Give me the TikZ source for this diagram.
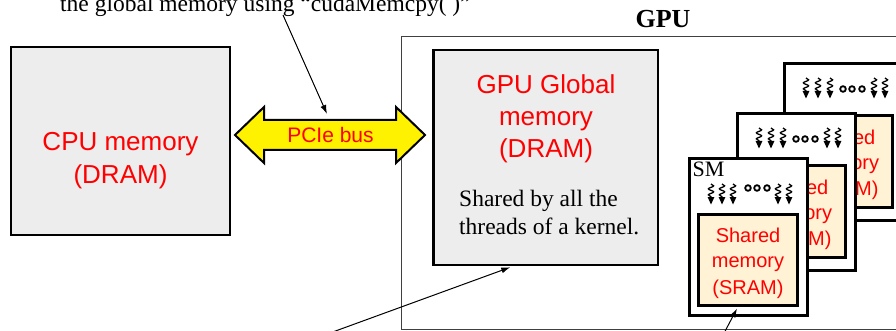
\documentclass[tikz,border=0pt]{standalone}
\usepackage{fontspec}
\setmainfont{Liberation Serif}
\newfontfamily\arialf{Liberation Sans}
\usetikzlibrary{arrows.meta,decorations.pathmorphing,calc}
\definecolor{boxgray}{HTML}{EDEDED}
\definecolor{peach}{HTML}{FFF2D5}
\definecolor{outlinegray}{HTML}{404040}
\tikzset{
  membox/.style={draw=black, fill=boxgray, rectangle, anchor=north west, inner sep=0pt, outer sep=0pt},
  smbox/.style={draw=black, line width=3pt, fill=white, rectangle, anchor=north west, inner sep=0pt, outer sep=0pt, minimum width=118pt, minimum height=157pt},
  shbox/.style={draw=black, line width=3pt, fill=peach, rectangle, anchor=north west, inner sep=0pt, outer sep=0pt, minimum width=99pt, minimum height=91.5pt},
  redbig/.style={text=red, font=\arialf\fontsize{26}{32}\selectfont, anchor=base, inner sep=0pt},
  redsmall/.style={text=red, font=\arialf\fontsize{20}{26}\selectfont, anchor=base, inner sep=0pt},
  serifbody/.style={font=\fontsize{23.5}{27}\selectfont, anchor=base west, inner sep=0pt},
  conn/.style={line width=1pt, -{Latex[length=9pt,width=6pt]}},
  dotc/.style={draw=black, line width=1.8pt, fill=white},
  thr/.pic={
    \draw[line width=1.3pt, decorate, decoration={snake, segment length=6pt, amplitude=2.6pt}] (0,-10) -- (0,4);
    \fill (-3.4,3) -- (3.4,3) -- (0,10.5) -- cycle;
  }
}
\begin{document}
\begin{tikzpicture}[x=1pt,y=-1pt]
\useasboundingbox (0,0) rectangle (896,331);
\clip (0,0) rectangle (896,331);

% top annotation (partly cut off)
\node[serifbody] (toptext) at (60,12) {the global memory using “cudaMemcpy( )”};

% GPU outer box and label
\node[draw=outlinegray, line width=1pt, rectangle, anchor=north west, inner sep=0pt, outer sep=0pt, minimum width=510pt, minimum height=292pt] (gpu) at (401.5,37) {};
\node[font=\bfseries\fontsize{26}{30}\selectfont, anchor=base, inner sep=0pt] (gpulbl) at (663,28) {GPU};

% CPU memory
\node[membox, line width=2pt, minimum width=219pt, minimum height=188pt] (cpu) at (11,47) {};
\node[redbig] (cpu1) at (120.5,151) {CPU memory};
\node[redbig] (cpu2) at (120.5,183.5) {(DRAM)};

% GPU global memory
\node[membox, line width=2.5pt, minimum width=224.5pt, minimum height=214.5pt] (glob) at (433.25,50.25) {};
\node[redbig] (glob1) at (546,93.5) {GPU Global};
\node[redbig] (glob2) at (546,125.5) {memory};
\node[redbig] (glob3) at (546,158) {(DRAM)};
\node[serifbody] (glob4) at (459,207) {Shared by all the};
\node[serifbody] (glob5) at (459,234) {threads of a kernel.};

% PCIe double arrow
\filldraw[fill=yellow, draw=black, line width=2pt, line join=miter]
  (235,135) -- (264,107) -- (264,120) -- (396,120) -- (396,107) -- (425,135)
  -- (396,163) -- (396,150) -- (264,150) -- (264,163) -- cycle;
\node[text=red, font=\arialf\fontsize{21}{25}\selectfont, anchor=base, inner sep=0pt] (pcie) at (330.5,142.5) {PCIe bus};
\coordinate (pcietop) at (327,114);

% back SM
\begin{scope}[shift={(783,62)}]
  \node[smbox] (smC) at (1.5,1.5) {};
  \node[shbox] (shC) at (10.5,53.5) {};
  \node[redsmall] (shC1) at ($(shC.north)+(0,29)$) {Shared};
  \node[redsmall] (shC2) at ($(shC.north)+(0,54)$) {memory};
  \node[redsmall] (shC3) at ($(shC.north)+(0,80)$) {(SRAM)};
  \foreach \t in {23,35,47,91,102} \pic at (\t,26) {thr};
  \foreach \d in {60,69,79} \draw[dotc] (\d,27) circle (2.8pt);
\end{scope}

% middle SM
\begin{scope}[shift={(736,112)}]
  \node[smbox] (smB) at (1.5,1.5) {};
  \node[shbox] (shB) at (10.5,53.5) {};
  \node[redsmall] (shB1) at ($(shB.north)+(0,29)$) {Shared};
  \node[redsmall] (shB2) at ($(shB.north)+(0,54)$) {memory};
  \node[redsmall] (shB3) at ($(shB.north)+(0,80)$) {(SRAM)};
  \foreach \t in {23,35,47,91,102} \pic at (\t,26) {thr};
  \foreach \d in {60,69,79} \draw[dotc] (\d,27) circle (2.8pt);
\end{scope}

% front SM
\begin{scope}[shift={(688,157)}]
  \node[smbox] (smA) at (1.5,1.5) {};
  \node[font=\fontsize{22}{24}\selectfont, anchor=base west, inner sep=0pt] (smlbl) at (4.5,20) {SM};
  \node[shbox] (shA) at (10.5,57) {};
  \node[redsmall] (shA1) at ($(shA.north)+(0,28.5)$) {Shared};
  \node[redsmall] (shA2) at ($(shA.north)+(0,53.5)$) {memory};
  \node[redsmall] (shA3) at ($(shA.north)+(0,80)$) {(SRAM)};
  \foreach \t in {23,34,45,90,101} \pic at (\t,37) {thr};
  \foreach \d in {60,69,79} \draw[dotc] (\d,31) circle (2.8pt);
\end{scope}

% connectors
\coordinate (a1s) at (283,15);
\draw[conn] (a1s) -- (pcietop);
\coordinate (a2s) at (319,337);
\draw[conn] (a2s) -- ($(glob.south west)+(77,2.5)$);
\coordinate (a3s) at (722,337);
\draw[conn] (a3s) -- ($(shA.south west)+(38.5,3)$);
\end{tikzpicture}
\end{document}
